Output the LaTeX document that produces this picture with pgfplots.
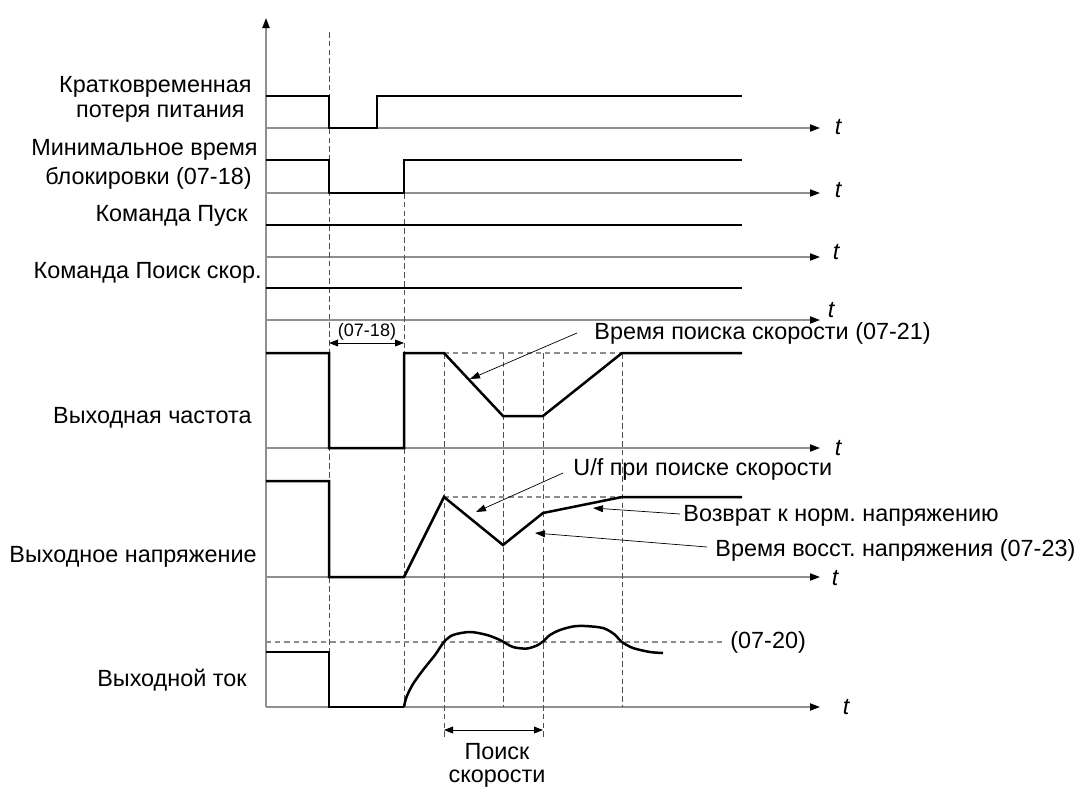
\documentclass[border=0pt]{standalone}
\usepackage{fontspec}
\setmainfont{Liberation Sans}
\usepackage{pgfplots}
\pgfplotsset{compat=1.18}
\usetikzlibrary{arrows.meta}

% colours of the drawing
\definecolor{basegray}{HTML}{909090}
\definecolor{dashgray}{HTML}{505050}
\definecolor{refgray}{HTML}{8C8C8C}

\tikzset{
  sig/.style={black, line width=1.25pt},
  base/.style={basegray, line width=0.7pt, -{Triangle[length=5pt,width=3.6pt,color=black]}},
  vdash/.style={dashgray, line width=0.45pt, dash pattern=on 2.8pt off 1.6pt},
  hdash/.style={refgray, line width=0.6pt, dash pattern=on 2.6pt off 2pt},
  note/.style={black, line width=0.35pt, -{Triangle[length=5pt,width=3.4pt]}},
  both/.style={black, line width=0.45pt, {Triangle[length=4.5pt,width=3.4pt]}-{Triangle[length=4.5pt,width=3.4pt]}},
  lbl/.style={inner sep=0pt, font=\fontsize{11.7}{14}\selectfont},
  small/.style={inner sep=0pt, font=\fontsize{9}{10}\selectfont},
  tt/.style={inner sep=0pt, font=\fontsize{11.7}{14}\selectfont\itshape},
}

\begin{document}
\frenchspacing
\begin{tikzpicture}
\begin{axis}[
    width=544pt, height=394.5pt, scale only axis,
    xmin=0, xmax=1088, ymin=0, ymax=789,
    y dir=reverse,
    hide axis, clip=false,
]
% frame of the page
\addplot[draw=none] coordinates {(0,0) (1088,789)};

% vertical axis
\addplot[basegray, line width=0.7pt, -{Triangle[length=5pt,width=3.6pt,color=black]}]
  coordinates {(266,707) (266,18)};

% time baselines
\addplot[base] coordinates {(266,128) (820,128)};
\addplot[base] coordinates {(266,193) (820,193)};
\addplot[base] coordinates {(266,257) (820,257)};
\addplot[base] coordinates {(266,320) (820,320)};
\addplot[base] coordinates {(266,448) (820,448)};
\addplot[base] coordinates {(266,577) (820,577)};
\addplot[base] coordinates {(266,707) (820,707)};

% vertical dashed markers
\addplot[vdash] coordinates {(329,32) (329,707)};
\addplot[vdash] coordinates {(404,193) (404,707)};
\addplot[vdash] coordinates {(444,353) (444,738)};
\addplot[vdash] coordinates {(503,353) (503,707)};
\addplot[vdash] coordinates {(543,353) (543,738)};
\addplot[vdash] coordinates {(622,353) (622,707)};

% horizontal dashed references
\addplot[hdash] coordinates {(444,353) (622,353)};
\addplot[hdash] coordinates {(444,497) (622,497)};
\addplot[hdash] coordinates {(266,642) (722,642)};

% signals
\addplot[sig] coordinates {(266,96) (329,96) (329,128) (377,128) (377,96) (742,96)};
\addplot[sig] coordinates {(266,160) (329,160) (329,193) (404,193) (404,160) (742,160)};
\addplot[sig] coordinates {(266,225) (742,225)};
\addplot[sig] coordinates {(266,288) (742,288)};
\addplot[sig] coordinates {(266,353) (329,353) (329,448) (404,448) (404,353) (444,353)
  (503,416) (543,416) (622,353) (742,353)};
\addplot[sig] coordinates {(266,481) (329,481) (329,577) (404,577) (444,497)
  (503,545) (543,513) (622,497) (742,497)};
\addplot[sig] coordinates {(266,652) (329,652) (329,707) (404,707)};
\addplot[sig, smooth, tension=0.5] coordinates {
  (404,707) (406.5,697) (413,684) (423,670) (435,655) (444,642)
  (453,635) (470,632) (487,635) (500,640) (513,647) (527,648.5)
  (538,645) (543,641.5) (550,635) (560,630) (573,626.5) (585,626)
  (603,628) (614,634) (622,642) (633,648) (650,652) (663,653)};

% interval arrows
\addplot[both] coordinates {(329,343) (404,343)};
\addplot[both] coordinates {(444,730) (543,730)};

% annotation leaders
\addplot[note] coordinates {(577,333) (470,379)};
\addplot[note] coordinates {(563,473) (476,512)};
\addplot[note] coordinates {(680,514) (593,508)};
\addplot[note] coordinates {(707,547) (535,533)};

% left labels
\node[lbl, anchor=east] at (axis cs:252,87) {Кратковременная};
\node[lbl, anchor=east] at (axis cs:245,114) {потеря питания};
\node[lbl, anchor=east] at (axis cs:258,150) {Минимальное время};
\node[lbl, anchor=east] at (axis cs:252,178) {блокировки (07-18)};
\node[lbl, anchor=east] at (axis cs:248,216) {Команда Пуск};
\node[lbl, anchor=east] at (axis cs:262,273) {Команда Поиск скор.};
\node[lbl, anchor=east] at (axis cs:252,418) {Выходная частота};
\node[lbl, anchor=east] at (axis cs:257,557) {Выходное напряжение};
\node[lbl, anchor=east] at (axis cs:247,680) {Выходной ток};

% annotations
\node[lbl, anchor=west] at (axis cs:594,333) {Время поиска скорости (07-21)};
\node[lbl, anchor=west] at (axis cs:573,469) {U/f при поиске скорости};
\node[lbl, anchor=west] at (axis cs:683,516) {Возврат к норм. напряжению};
\node[lbl, anchor=west] at (axis cs:715,550) {Время восст. напряжения (07-23)};
\node[lbl, anchor=west] at (axis cs:730,642) {(07-20)};
\node[small] at (axis cs:367,332) {(07-18)};
\node[lbl] at (axis cs:497,752) {Поиск};
\node[lbl] at (axis cs:497,779) {скорости};

% time symbols
\node[tt] at (axis cs:838,127) {t};
\node[tt] at (axis cs:838,190) {t};
\node[tt] at (axis cs:836,252) {t};
\node[tt] at (axis cs:831,310) {t};
\node[tt] at (axis cs:838,448) {t};
\node[tt] at (axis cs:835,578) {t};
\node[tt] at (axis cs:846,707) {t};
\end{axis}
\end{tikzpicture}
\end{document}
